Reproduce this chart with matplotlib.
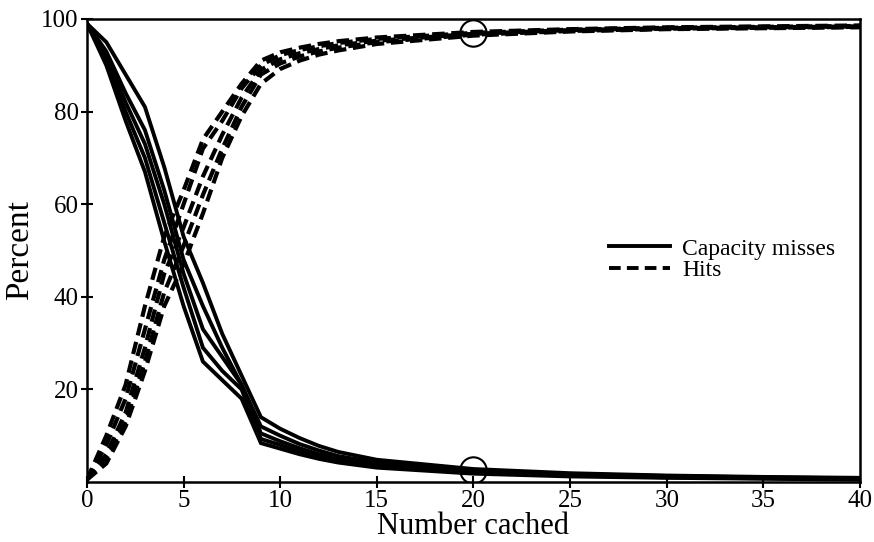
import matplotlib
matplotlib.use("Agg")
import matplotlib.pyplot as plt
from matplotlib.lines import Line2D

plt.rcParams['font.family'] = ['Liberation Serif', 'DejaVu Serif']

# x positions (number cached)
x = [0, 1, 2, 3, 4, 5, 6, 7, 8, 9, 10, 11, 12, 13, 15, 20, 25, 30, 35, 40]

# Capacity misses (solid), several runs
miss_1 = [99, 95, 88, 81, 68, 53, 43, 32, 23, 14, 11.5, 9.5, 7.8, 6.5, 4.8, 2.8, 1.9, 1.4, 1.1, 0.9]
miss_2 = [99, 93, 84, 76, 63, 48, 38, 29, 21, 12, 10, 8.2, 6.8, 5.6, 4.2, 2.5, 1.7, 1.3, 1.0, 0.8]
miss_3 = [99, 92, 82, 73, 60, 45, 33, 27, 21, 10.5, 8.8, 7.3, 6.0, 5.0, 3.7, 2.2, 1.5, 1.1, 0.9, 0.7]
miss_4 = [99, 91, 80, 70, 56, 42, 29, 24, 20, 9.3, 8.0, 6.6, 5.5, 4.6, 3.4, 2.0, 1.4, 1.0, 0.8, 0.6]
miss_5 = [99, 90, 78, 67, 52, 38, 26, 22, 18, 8.4, 7.2, 6.0, 5.0, 4.2, 3.1, 1.8, 1.2, 0.9, 0.7, 0.5]

# Hits (dashed), several runs
hit_1 = [0.5, 10, 21, 38, 53, 63, 74, 80, 86, 91, 92.8, 93.8, 94.6, 95.2, 96.0, 97.2, 97.8, 98.2, 98.4, 98.6]
hit_2 = [0.5, 8, 18, 33, 48, 60, 72, 78, 85, 90, 92.2, 93.3, 94.1, 94.8, 95.7, 97.0, 97.7, 98.1, 98.3, 98.5]
hit_3 = [0.5, 6, 15, 29, 45, 55, 66, 75, 83, 89, 91.3, 92.6, 93.5, 94.3, 95.3, 96.8, 97.6, 98.0, 98.2, 98.4]
hit_4 = [0.5, 5, 13, 26, 41, 51, 62, 72, 81, 88, 90.4, 91.9, 93.0, 93.8, 95.0, 96.6, 97.4, 97.9, 98.1, 98.3]
hit_5 = [0.5, 4, 12, 24, 38, 47, 58, 70, 79, 86, 89.2, 91.0, 92.3, 93.2, 94.6, 96.4, 97.3, 97.8, 98.0, 98.2]

misses = [miss_1, miss_2, miss_3, miss_4, miss_5]
hits = [hit_1, hit_2, hit_3, hit_4, hit_5]

# highlighted points
circle_x = [20, 20]
circle_y = [97, 2.5]

xticks = [0, 5, 10, 15, 20, 25, 30, 35, 40]
yticks = [20, 40, 60, 80, 100]

fig = plt.figure(figsize=(8.74, 5.42), dpi=100)
ax = fig.add_axes([0.0995, 0.1107, 0.8845, 0.8543])

for m in misses:
    ax.plot(x, m, color='black', lw=2.8, solid_joinstyle='miter')
for h in hits:
    ax.plot(x, h, color='black', lw=3.0, dashes=(3, 1.6))

ax.plot(circle_x, circle_y, linestyle='none', marker='o', markersize=19,
        markerfacecolor='none', markeredgecolor='black', markeredgewidth=1.5)

ax.set_xlim(0, 40)
ax.set_ylim(0, 100)
ax.set_xticks(xticks)
ax.set_yticks(yticks)
ax.tick_params(direction='inout', length=8, width=1.5, labelsize=18, pad=2)
for s in ax.spines.values():
    s.set_linewidth(1.8)

ax.set_xlabel('Number cached', fontsize=22, labelpad=0)
ax.set_ylabel('Percent', fontsize=24, labelpad=4)

handles = [Line2D([], [], color='black', lw=2.8),
           Line2D([], [], color='black', lw=2.8, dashes=(3, 1.6))]
ax.legend(handles, ['Capacity misses', 'Hits'], loc='center left',
          bbox_to_anchor=(0.66, 0.48), frameon=False, fontsize=17,
          handlelength=2.6, handletextpad=0.5, labelspacing=0.0,
          borderpad=0)

fig.savefig('out.png', dpi=100)
